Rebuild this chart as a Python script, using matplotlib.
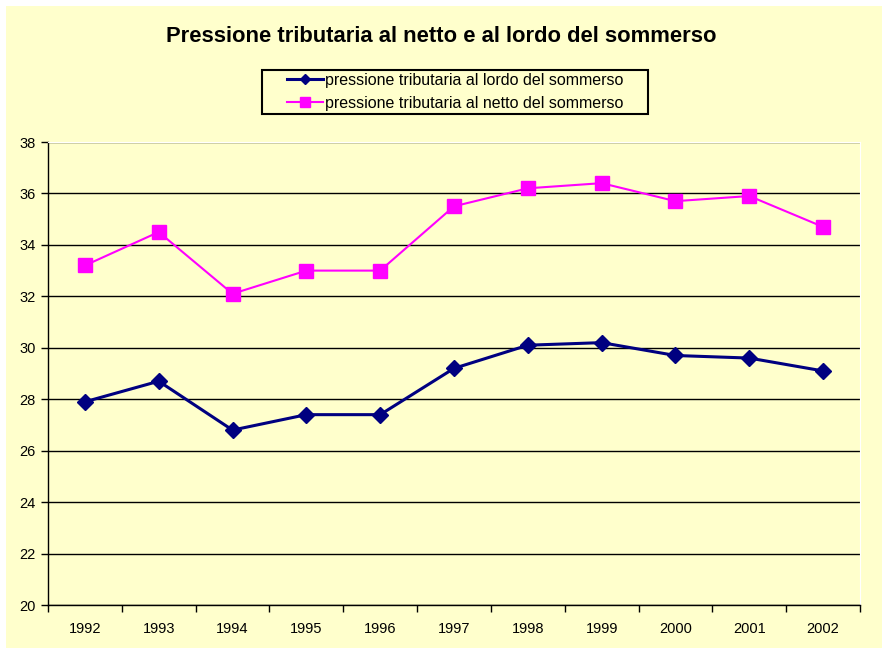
import numpy as np
import matplotlib.pyplot as plt
from matplotlib.patches import Rectangle

plt.rcParams['font.family'] = ['Liberation Sans', 'DejaVu Sans']

anni = ['1992', '1993', '1994', '1995', '1996', '1997', '1998', '1999', '2000', '2001', '2002']
lordo = [27.9, 28.7, 26.8, 27.4, 27.4, 29.2, 30.1, 30.2, 29.7, 29.6, 29.1]
netto = [33.2, 34.5, 32.1, 33.0, 33.0, 35.5, 36.2, 36.4, 35.7, 35.9, 34.7]
y_ticks = [20, 22, 24, 26, 28, 30, 32, 34, 36, 38]

giallo = '#FFFFCC'

fig = plt.figure(figsize=(8.82, 6.48), dpi=100, facecolor='white')
# sfondo giallo con bordino bianco in alto e a sinistra
fig.patches.append(Rectangle((6 / 882, 0), 1, 1 - 6 / 648, transform=fig.transFigure,
                             facecolor=giallo, edgecolor='none', zorder=-10))
# cornice della legenda (più larga del contenuto, come in Excel)
fig.patches.append(Rectangle((262 / 882, 1 - 114 / 648), 386 / 882, 44 / 648, transform=fig.transFigure,
                             facecolor=giallo, edgecolor='black', lw=1.5, zorder=1))

ax = fig.add_axes([48 / 882, 43 / 648, 812 / 882, 463 / 648])
ax.set_facecolor(giallo)

x = np.arange(len(anni))
ax.plot(x, lordo, color='#000080', lw=2.2, marker='D', ms=8, label='pressione tributaria al lordo del sommerso', zorder=3)
ax.plot(x, netto, color='#FF00FF', lw=1.5, marker='s', ms=10, label='pressione tributaria al netto del sommerso', zorder=3)

ax.set_xlim(-0.5, len(anni) - 0.5)
ax.set_ylim(20, 38)
ax.set_yticks(y_ticks)
ax.set_yticklabels([str(v) for v in y_ticks], fontsize=10.5)
ax.set_xticks(x)
ax.set_xticklabels(anni, fontsize=10.5)
ax.set_xticks(np.arange(-0.5, len(anni)), minor=True)
ax.tick_params(axis='x', which='major', length=0, pad=12)
ax.tick_params(axis='x', which='minor', length=5, width=1, direction='out')
ax.tick_params(axis='y', length=5, width=1, direction='out', pad=4)

ax.grid(axis='y', color='black', lw=1)
ax.set_axisbelow(True)
for s in ['top', 'right']:
    ax.spines[s].set_color('white')
for s in ['left', 'bottom']:
    ax.spines[s].set_color('black')
    ax.spines[s].set_linewidth(1)

fig.text(0.5, 1 - 37 / 648, 'Pressione tributaria al netto e al lordo del sommerso',
         ha='center', va='center', fontsize=15.8, fontweight='bold')

handles, labels = ax.get_legend_handles_labels()
leg = fig.legend(handles, labels, loc='center', bbox_to_anchor=(455 / 882, 1 - 92 / 648),
                 fontsize=11.5, frameon=False, handlelength=2.3, handletextpad=0.1,
                 borderpad=0, labelspacing=0.5, markerscale=0.7, borderaxespad=0)
leg.set_zorder(5)

fig.savefig('out.png', dpi=100, facecolor=fig.get_facecolor())
